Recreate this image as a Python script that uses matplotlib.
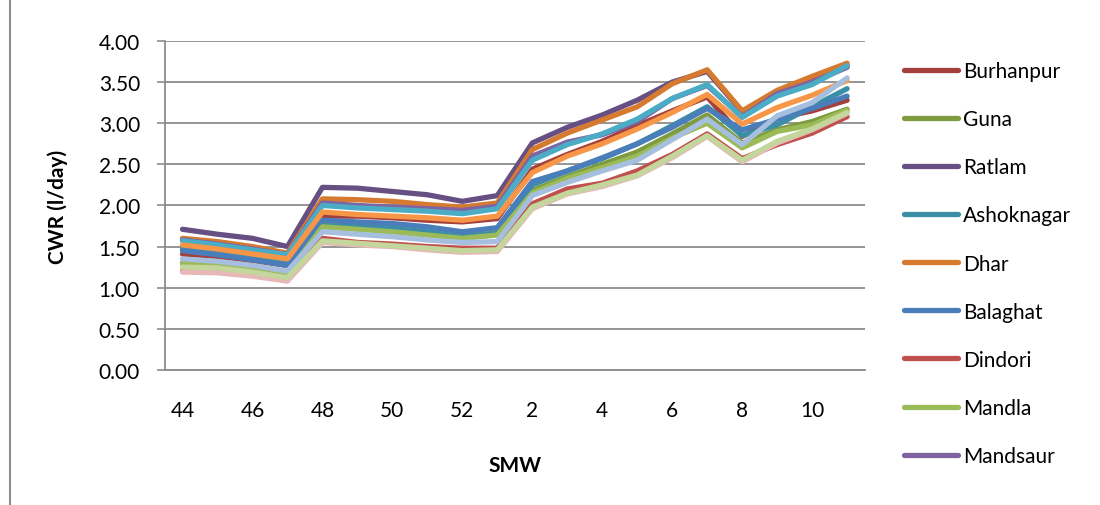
import numpy as np
import matplotlib.pyplot as plt
from matplotlib.lines import Line2D

# standard meteorological weeks (44..52 then 1..11)
smw = ['44', '45', '46', '47', '48', '49', '50', '51', '52', '1',
       '2', '3', '4', '5', '6', '7', '8', '9', '10', '11']

burhanpur = [1.41, 1.38, 1.33, 1.27, 1.87, 1.87, 1.85, 1.82, 1.80, 1.84, 2.44, 2.62, 2.78, 2.97, 3.15, 3.32, 2.84, 3.06, 3.15, 3.28]
guna = [1.30, 1.28, 1.24, 1.19, 1.77, 1.74, 1.72, 1.67, 1.62, 1.67, 2.18, 2.35, 2.50, 2.65, 2.87, 3.10, 2.76, 2.92, 3.02, 3.17]
ratlam = [1.71, 1.65, 1.60, 1.50, 2.22, 2.21, 2.17, 2.13, 2.05, 2.12, 2.76, 2.95, 3.10, 3.28, 3.50, 3.63, 3.14, 3.38, 3.53, 3.70]
ashoknagar = [1.47, 1.42, 1.37, 1.30, 1.75, 1.75, 1.72, 1.68, 1.62, 1.66, 2.25, 2.42, 2.57, 2.75, 2.97, 3.20, 2.85, 2.98, 3.20, 3.42]
dhar = [1.60, 1.56, 1.50, 1.42, 2.08, 2.07, 2.05, 2.01, 1.98, 2.03, 2.68, 2.88, 3.04, 3.20, 3.48, 3.65, 3.15, 3.40, 3.57, 3.73]
balaghat = [1.45, 1.40, 1.34, 1.27, 1.82, 1.80, 1.78, 1.74, 1.68, 1.73, 2.29, 2.42, 2.58, 2.75, 2.95, 3.18, 2.92, 3.05, 3.18, 3.33]
dindori = [1.20, 1.20, 1.16, 1.10, 1.60, 1.55, 1.53, 1.50, 1.48, 1.48, 2.02, 2.20, 2.27, 2.42, 2.62, 2.87, 2.57, 2.74, 2.88, 3.08]
mandla = [1.29, 1.27, 1.22, 1.17, 1.74, 1.71, 1.68, 1.64, 1.60, 1.64, 2.15, 2.33, 2.46, 2.60, 2.82, 3.00, 2.70, 2.90, 2.98, 3.16]
mandsaur = [1.58, 1.53, 1.47, 1.40, 2.03, 2.00, 1.98, 1.96, 1.94, 1.99, 2.60, 2.77, 2.86, 3.02, 3.30, 3.46, 3.08, 3.36, 3.50, 3.68]

# further series whose legend entries are cut off in the original
extra_1 = [1.57, 1.52, 1.46, 1.40, 2.00, 1.97, 1.95, 1.93, 1.90, 1.96, 2.55, 2.74, 2.87, 3.05, 3.30, 3.47, 3.07, 3.33, 3.47, 3.70]
extra_2 = [1.52, 1.47, 1.41, 1.35, 1.92, 1.89, 1.87, 1.85, 1.82, 1.87, 2.40, 2.60, 2.75, 2.93, 3.13, 3.35, 2.99, 3.19, 3.34, 3.52]
extra_3 = [1.35, 1.32, 1.27, 1.20, 1.68, 1.65, 1.62, 1.58, 1.55, 1.56, 2.12, 2.28, 2.42, 2.55, 2.80, 3.05, 2.74, 3.09, 3.25, 3.55]
extra_4 = [1.19, 1.18, 1.14, 1.08, 1.55, 1.52, 1.50, 1.46, 1.43, 1.44, 1.96, 2.14, 2.23, 2.36, 2.58, 2.84, 2.53, 2.76, 2.92, 3.12]
extra_5 = [1.25, 1.24, 1.19, 1.12, 1.57, 1.54, 1.51, 1.48, 1.45, 1.46, 1.98, 2.15, 2.25, 2.37, 2.60, 2.85, 2.55, 2.78, 2.93, 3.13]

names = ['Burhanpur', 'Guna', 'Ratlam', 'Ashoknagar', 'Dhar', 'Balaghat', 'Dindori', 'Mandla', 'Mandsaur']
series = [burhanpur, guna, ratlam, ashoknagar, dhar, balaghat, dindori, mandla, mandsaur]
colors = ['#A3403D', '#7E9B40', '#664F82', '#3A8FA6', '#D67A30', '#4A7EBB', '#C0504D', '#9BBB59', '#8064A2']
extras = [extra_1, extra_2, extra_3, extra_4, extra_5]
extra_colors = ['#4BACC6', '#F79646', '#A7BFDE', '#E6B9B8', '#C3D69B']

plt.rcParams['font.family'] = ['Lato', 'DejaVu Sans']

fig = plt.figure(figsize=(11, 5.06), dpi=100)
ax = fig.add_axes([0.15, 0.267, 0.636, 0.65])

x = np.arange(len(smw))
for vals, c, n in zip(series, colors, names):
    ax.plot(x, vals, color=c, lw=3.8, label=n, solid_capstyle='round', solid_joinstyle='round')
for vals, c in zip(extras, extra_colors):
    ax.plot(x, vals, color=c, lw=3.8, solid_capstyle='round', solid_joinstyle='round')

ax.set_xlim(-0.5, len(smw) - 0.5)
ax.set_ylim(0, 4)
ax.set_yticks(np.arange(0, 4.01, 0.5))
ax.set_yticklabels(['%.2f' % v for v in np.arange(0, 4.01, 0.5)])
ax.set_xticks(x[::2])
ax.set_xticklabels(smw[::2])
ax.grid(axis='y', color='#8C8C8C', lw=1.3)
ax.set_axisbelow(True)
for s in ['top', 'right']:
    ax.spines[s].set_visible(False)
for s in ['left', 'bottom']:
    ax.spines[s].set_color('#8C8C8C')
    ax.spines[s].set_linewidth(1.3)
ax.tick_params(axis='y', length=6, color='#8C8C8C', width=1.2, labelsize=15, pad=12)
ax.tick_params(axis='x', length=0, labelsize=15, pad=22)
ax.set_ylabel('CWR (l/day)', fontsize=15, fontweight='bold', labelpad=22)
ax.set_xlabel('SMW', fontsize=15, fontweight='bold', labelpad=25)

handles = [Line2D([], [], color=c, lw=3.8, solid_capstyle='round') for c in colors]
fig.legend(handles, names, loc='upper left', bbox_to_anchor=(0.812, 0.898),
           frameon=False, fontsize=15, handlelength=2.6, handletextpad=0.25,
           labelspacing=1.35, borderpad=0)

# left border of the chart box
fig.add_artist(Line2D([0.009, 0.009], [0, 1], color='#8C8C8C', lw=1.5))

fig.savefig('out.png', dpi=100)
